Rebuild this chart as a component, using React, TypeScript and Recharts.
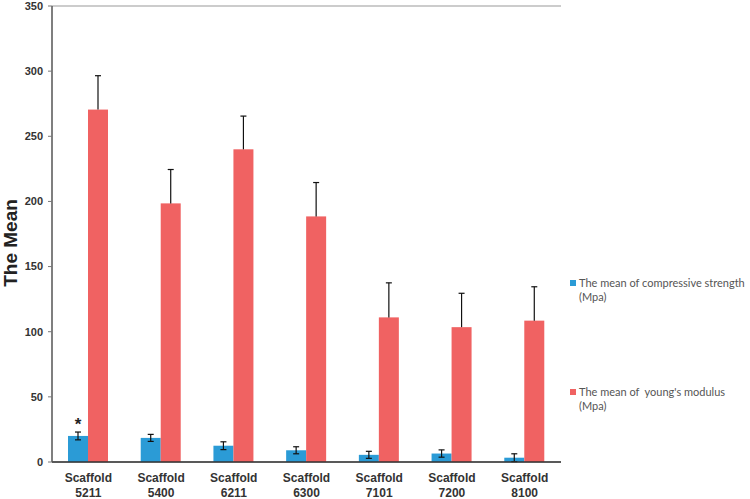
import { Bar, BarChart, CartesianGrid, ErrorBar, LabelList, XAxis, YAxis } from "recharts";

const scaffolds = ["5211", "5400", "6211", "6300", "7101", "7200", "8100"];
const compressive = [20, 18.5, 12.5, 9, 5.5, 6.5, 3.3];
const compressiveErr = [3, 2.7, 3, 2.7, 2.7, 2.8, 3];
const youngs = [270.5, 198.5, 240, 188.5, 111, 103.5, 108.5];
const youngsErr = [26, 26, 25.5, 26, 26.5, 26, 26];
const marks = ["*", "", "", "", "", "", ""];
const yTicks = [0, 50, 100, 150, 200, 250, 300, 350];

const BLUE = "#2B9BD6";
const RED = "#F06262";

const data = scaffolds.map((s, i) => ({
  name: s,
  comp: compressive[i],
  compErr: compressiveErr[i],
  young: youngs[i],
  youngErr: youngsErr[i],
  mark: marks[i],
}));

const font = "'Liberation Sans', Arial, sans-serif";

const XTick = (props: any) => {
  const { x, y, payload } = props;
  return (
    <g transform={`translate(${x},${y})`}>
      <text textAnchor="middle" fontFamily={font} fontWeight="bold" fontSize={12} fill="#333">
        <tspan x={0} dy={12}>Scaffold</tspan>
        <tspan x={0} dy={15}>{payload.value}</tspan>
      </text>
    </g>
  );
};

// red bar with a plus-only error bar, scaled from the bar's own height
const YoungBar = (props: any) => {
  const { x, y, width, height, payload } = props;
  const perUnit = height / payload.young;
  const top = y - payload.youngErr * perUnit;
  const cx = x + width / 2;
  return (
    <g>
      <rect x={x} y={y} width={width} height={height} fill={RED} />
      <line x1={cx} x2={cx} y1={y} y2={top} stroke="#111" strokeWidth={1.2} />
      <line x1={cx - 3} x2={cx + 3} y1={top} y2={top} stroke="#111" strokeWidth={1.2} />
    </g>
  );
};

const LegendBox = () => {
  const items = [
    { color: BLUE, text: "The mean of compressive strength" },
    { color: RED, text: "The mean of  young's modulus" },
  ];
  return (
    <div
      style={{
        position: "absolute",
        left: 570,
        top: 276,
        width: 180,
        fontFamily: "Lato, sans-serif",
        fontSize: 11,
        color: "#555",
        lineHeight: "14px",
      }}
    >
      {items.map((it, i) => (
        <div key={i} style={{ position: "relative", paddingLeft: 9, marginBottom: i === 0 ? 81 : 0 }}>
          <span
            style={{
              position: "absolute",
              left: 0,
              top: 4,
              width: 6,
              height: 6,
              background: it.color,
            }}
          />
          <div style={{ whiteSpace: "pre" }}>{it.text}</div>
          <div>(Mpa)</div>
        </div>
      ))}
    </div>
  );
};

export default function App() {
  return (
    <div style={{ position: "absolute", left: 0, top: 0, width: 750, height: 499, background: "#fff" }}>
      <BarChart
        width={750}
        height={499}
        data={data}
        margin={{ top: 6, right: 189, left: 12, bottom: 0 }}
        barGap={0}
        barCategoryGap={16}
      >
        <CartesianGrid vertical={false} stroke="#999" />
        <XAxis
          dataKey="name"
          height={37}
          tick={<XTick />}
          tickLine={false}
          axisLine={{ stroke: "#333", strokeWidth: 1.5 }}
          interval={0}
        />
        <YAxis
          yAxisId="left"
          domain={[0, 350]}
          ticks={yTicks}
          width={40}
          tickSize={4}
          tickMargin={5}
          tickLine={{ stroke: "#777" }}
          axisLine={{ stroke: "#555", strokeWidth: 1.5 }}
          tick={{ fontFamily: font, fontWeight: "bold", fontSize: 11, fill: "#333" }}
          label={() => (
            <text
              x={17}
              y={243}
              transform="rotate(-90 17 243)"
              textAnchor="middle"
              fontFamily={font}
              fontWeight="bold"
              fontSize={19}
              fill="#222"
            >
              The Mean
            </text>
          )}
        />
        <YAxis
          yAxisId="right"
          orientation="right"
          domain={[0, 350]}
          width={0}
          tick={false}
          tickLine={false}
          axisLine={{ stroke: "#888", strokeWidth: 1.5 }}
        />
        <Bar yAxisId="left" dataKey="comp" fill={BLUE} isAnimationActive={false}>
          <ErrorBar dataKey="compErr" direction="y" width={3} stroke="#111" strokeWidth={1.2} />
          <LabelList
            dataKey="mark"
            position="top"
            offset={6}
            style={{ fontFamily: font, fontWeight: "bold", fontSize: 17, fill: "#222" }}
          />
        </Bar>
        <Bar yAxisId="left" dataKey="young" fill={RED} shape={<YoungBar />} isAnimationActive={false} />
      </BarChart>
      <LegendBox />
    </div>
  );
}
